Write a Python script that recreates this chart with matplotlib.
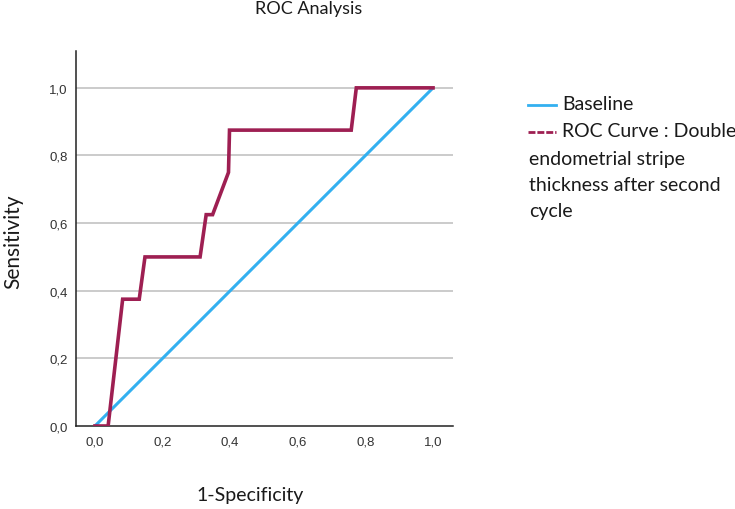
import matplotlib
matplotlib.use("Agg")
import matplotlib.pyplot as plt
from matplotlib.lines import Line2D

# ROC curve (1-specificity, sensitivity)
roc_fpr = [0.0, 0.039, 0.082, 0.131, 0.148, 0.311, 0.329, 0.348, 0.395, 0.398, 0.758, 0.773, 1.0]
roc_tpr = [0.0, 0.0, 0.375, 0.375, 0.5, 0.5, 0.625, 0.625, 0.75, 0.875, 0.875, 1.0, 1.0]
base_x = [0.0, 1.0]
base_y = [0.0, 1.0]
ticks = [0.0, 0.2, 0.4, 0.6, 0.8, 1.0]
tick_labels = ["0,0", "0,2", "0,4", "0,6", "0,8", "1,0"]
roc_label_lines = ["endometrial stripe", "thickness after second", "cycle"]

roc_color = "#9E1F52"
base_color = "#33B0F0"
text_font = ["Lato", "DejaVu Sans"]
txt_color = "#1a1a1a"

plt.rcParams["font.family"] = ["Liberation Sans", "DejaVu Sans"]

W, H = 735, 510
fig = plt.figure(figsize=(W / 100, H / 100), dpi=100)
ax = fig.add_axes([76 / W, 1 - 427 / H, (453 - 76) / W, (427 - 52) / H])

for t in ticks[1:]:
    ax.axhline(t, color="#BDBDBD", lw=1.1, zorder=0)

ax.plot(base_x, base_y, color=base_color, lw=2.2, solid_capstyle="butt", zorder=2)
ax.plot(roc_fpr, roc_tpr, color=roc_color, lw=2.6, solid_joinstyle="miter", zorder=3)

ax.set_xlim(-0.056, 1.059)
ax.set_ylim(0, 1.109)
ax.set_xticks(ticks)
ax.set_xticklabels(tick_labels)
ax.set_yticks(ticks)
ax.set_yticklabels(tick_labels)
ax.tick_params(length=0, labelsize=9.5, labelcolor="#333333")
ax.tick_params(axis="x", pad=7)
ax.tick_params(axis="y", pad=6)
for s in ["top", "right"]:
    ax.spines[s].set_visible(False)
for s in ["left", "bottom"]:
    ax.spines[s].set_color("#222222")
    ax.spines[s].set_linewidth(1.1)

fig.text(309 / W, 1 - 9 / H, "ROC Analysis", ha="center", va="center",
         fontsize=13, family=text_font, color=txt_color)
fig.text(13 / W, 1 - 242 / H, "Sensitivity", ha="center", va="center",
         rotation=90, fontsize=15, family=text_font, color=txt_color)
fig.text(250 / W, 1 - 496 / H, "1-Specificity", ha="center", va="center",
         fontsize=14, family=text_font, color=txt_color)

# legend drawn by hand so the wrapped label starts under the handle
fig.add_artist(Line2D([528 / W, 556 / W], [1 - 106 / H, 1 - 106 / H],
                      color=base_color, lw=2.0, transform=fig.transFigure))
fig.add_artist(Line2D([528 / W, 556 / W], [1 - 133 / H, 1 - 133 / H],
                      color=roc_color, lw=2.0, dashes=(2.5, 0.7),
                      transform=fig.transFigure))
fig.text(562 / W, 1 - 105 / H, "Baseline", ha="left", va="center",
         fontsize=14, family=text_font, color=txt_color)
fig.text(562 / W, 1 - 132 / H, "ROC Curve : Double", ha="left", va="center",
         fontsize=14, family=text_font, color=txt_color)
for i, line in enumerate(roc_label_lines):
    fig.text(529 / W, 1 - (159 + 26.5 * i) / H, line, ha="left", va="center",
             fontsize=14, family=text_font, color=txt_color)

fig.savefig("out.png", dpi=100)
plt.close(fig)
